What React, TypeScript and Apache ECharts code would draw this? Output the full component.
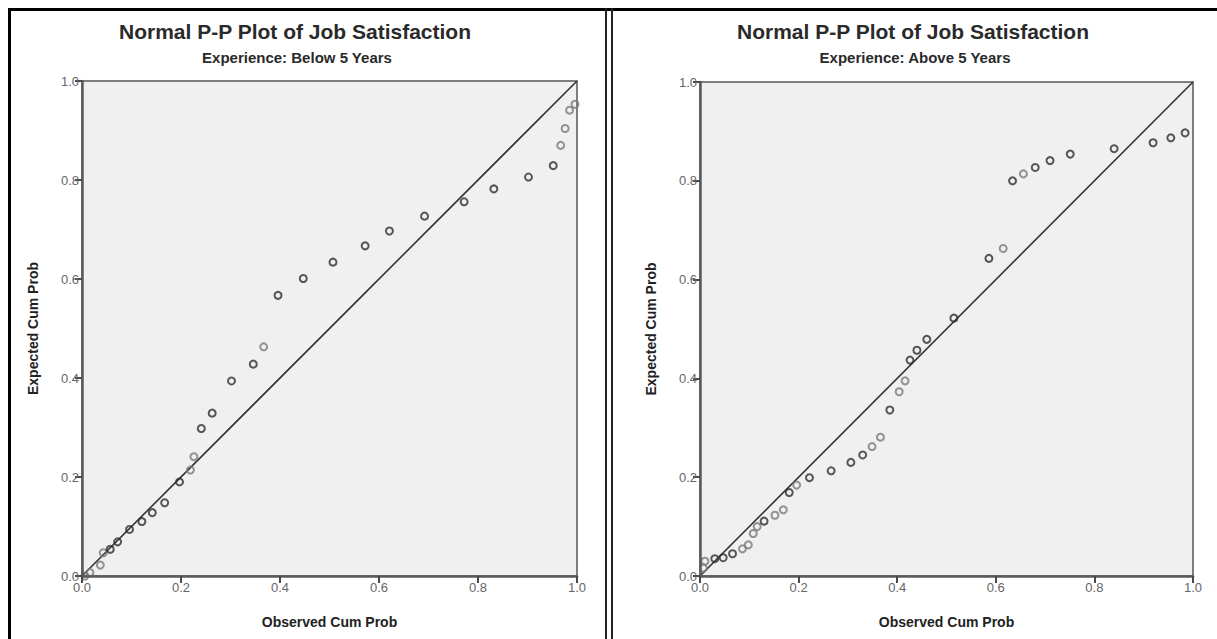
import React, { useEffect, useRef } from "react";
import * as echarts from "echarts";

const mainTitle = "Normal P-P Plot of Job Satisfaction";
const subTitles = ["Experience: Below 5 Years", "Experience: Above 5 Years"];
const xAxisName = "Observed Cum Prob";
const yAxisName = "Expected Cum Prob";
const tickValues = [0, 0.2, 0.4, 0.6, 0.8, 1.0];

// Below 5 years: [observed, expected]
const belowDark: [number, number][] = [
  [0.057, 0.054], [0.072, 0.069], [0.096, 0.094], [0.121, 0.110], [0.142, 0.128],
  [0.167, 0.148], [0.197, 0.190], [0.241, 0.298], [0.263, 0.329], [0.302, 0.394],
  [0.346, 0.428], [0.396, 0.567], [0.447, 0.601], [0.507, 0.634], [0.572, 0.667],
  [0.621, 0.697], [0.692, 0.727], [0.772, 0.756], [0.832, 0.782], [0.902, 0.806],
  [0.952, 0.829],
];
const belowLight: [number, number][] = [
  [0.006, 0.0], [0.016, 0.007], [0.037, 0.022], [0.043, 0.047], [0.219, 0.214],
  [0.226, 0.241], [0.367, 0.463], [0.967, 0.870], [0.976, 0.904], [0.985, 0.941],
  [0.996, 0.953],
];

// Above 5 years: [observed, expected]
const aboveDark: [number, number][] = [
  [0.030, 0.035], [0.047, 0.037], [0.066, 0.045], [0.130, 0.111], [0.181, 0.169],
  [0.222, 0.199], [0.266, 0.213], [0.306, 0.230], [0.330, 0.245], [0.385, 0.336],
  [0.426, 0.437], [0.440, 0.457], [0.460, 0.479], [0.515, 0.522], [0.586, 0.643],
  [0.634, 0.800], [0.680, 0.827], [0.710, 0.841], [0.751, 0.854], [0.840, 0.865],
  [0.919, 0.877], [0.955, 0.887], [0.984, 0.897],
];
const aboveLight: [number, number][] = [
  [0.007, 0.016], [0.010, 0.030], [0.086, 0.055], [0.098, 0.063], [0.108, 0.086],
  [0.116, 0.100], [0.152, 0.123], [0.169, 0.134], [0.196, 0.184], [0.349, 0.262],
  [0.366, 0.281], [0.404, 0.373], [0.416, 0.395], [0.615, 0.663], [0.656, 0.814],
];

const diagonal: [number, number][] = [[0, 0], [1, 1]];

const FONT = "Liberation Sans, Arial, sans-serif";

function axisCommon(gridIndex: number, isX: boolean) {
  return {
    type: "value",
    gridIndex,
    min: 0,
    max: 1,
    interval: 0.2,
    name: isX ? xAxisName : yAxisName,
    nameLocation: "middle",
    nameGap: isX ? 39 : 42,
    nameTextStyle: { fontFamily: FONT, fontSize: 14, fontWeight: "bold", color: "#222" },
    axisLine: { show: true, onZero: false, lineStyle: { color: "#5a5a5a", width: 2.5 } },
    axisTick: { show: true, length: 7, lineStyle: { color: "#4a4a4a", width: 2 } },
    axisLabel: {
      fontFamily: FONT,
      fontSize: 13,
      color: "#666",
      margin: isX ? 5 : 3,
      formatter: (v: number) => (tickValues.includes(Math.round(v * 10) / 10) ? v.toFixed(1) : ""),
    },
    splitLine: { show: false },
    z: 5,
  };
}

function scatter(data: [number, number][], color: string, idx: number) {
  return {
    type: "scatter",
    xAxisIndex: idx,
    yAxisIndex: idx,
    data,
    symbol: "circle",
    symbolSize: 7,
    itemStyle: { color: "rgba(0,0,0,0)", borderColor: color, borderWidth: 2 },
    z: 3,
  };
}

function diag(idx: number) {
  return {
    type: "line",
    xAxisIndex: idx,
    yAxisIndex: idx,
    data: diagonal,
    symbol: "none",
    lineStyle: { color: "#333", width: 1.6 },
    z: 2,
  };
}

export default function App() {
  const ref = useRef<HTMLDivElement>(null);
  useEffect(() => {
    if (!ref.current) return;
    const chart = echarts.init(ref.current, undefined, { renderer: "svg" });
    const dark = "#2e2e2e";
    const light = "#7a7a7a";
    const titleStyle = { fontFamily: FONT, fontSize: 21, fontWeight: "bold", fill: "#2a2a2a", align: "center", verticalAlign: "middle" };
    const subStyle = { fontFamily: FONT, fontSize: 15, fontWeight: "bold", fill: "#2a2a2a", align: "center", verticalAlign: "middle" };
    chart.setOption({
      animation: false,
      backgroundColor: "#ffffff",
      grid: [
        { left: 82, top: 81, width: 495, height: 495, show: true, backgroundColor: "#f0f0f0", borderColor: "#555", borderWidth: 1.5 },
        { left: 700, top: 82, width: 493, height: 494, show: true, backgroundColor: "#f0f0f0", borderColor: "#555", borderWidth: 1.5 },
      ],
      xAxis: [axisCommon(0, true), axisCommon(1, true)],
      yAxis: [axisCommon(0, false), axisCommon(1, false)],
      series: [
        diag(0),
        scatter(belowLight, light, 0),
        scatter(belowDark, dark, 0),
        diag(1),
        scatter(aboveLight, light, 1),
        scatter(aboveDark, dark, 1),
      ],
      graphic: [
        { type: "rect", shape: { x: 8, y: 8, width: 1215, height: 3 }, style: { fill: "#000" }, z: 10 },
        { type: "rect", shape: { x: 8, y: 8, width: 3, height: 640 }, style: { fill: "#000" }, z: 10 },
        { type: "rect", shape: { x: 605, y: 8, width: 2, height: 640 }, style: { fill: "#222" }, z: 10 },
        { type: "rect", shape: { x: 611, y: 8, width: 2, height: 640 }, style: { fill: "#222" }, z: 10 },
        { type: "text", x: 295, y: 31, style: { ...titleStyle, text: mainTitle } },
        { type: "text", x: 913, y: 31, style: { ...titleStyle, text: mainTitle } },
        { type: "text", x: 297, y: 57, style: { ...subStyle, text: subTitles[0] } },
        { type: "text", x: 915, y: 57, style: { ...subStyle, text: subTitles[1] } },
      ],
    });
    return () => chart.dispose();
  }, []);
  return <div ref={ref} style={{ position: "fixed", left: 0, top: 0, width: 1217, height: 639 }} />;
}
